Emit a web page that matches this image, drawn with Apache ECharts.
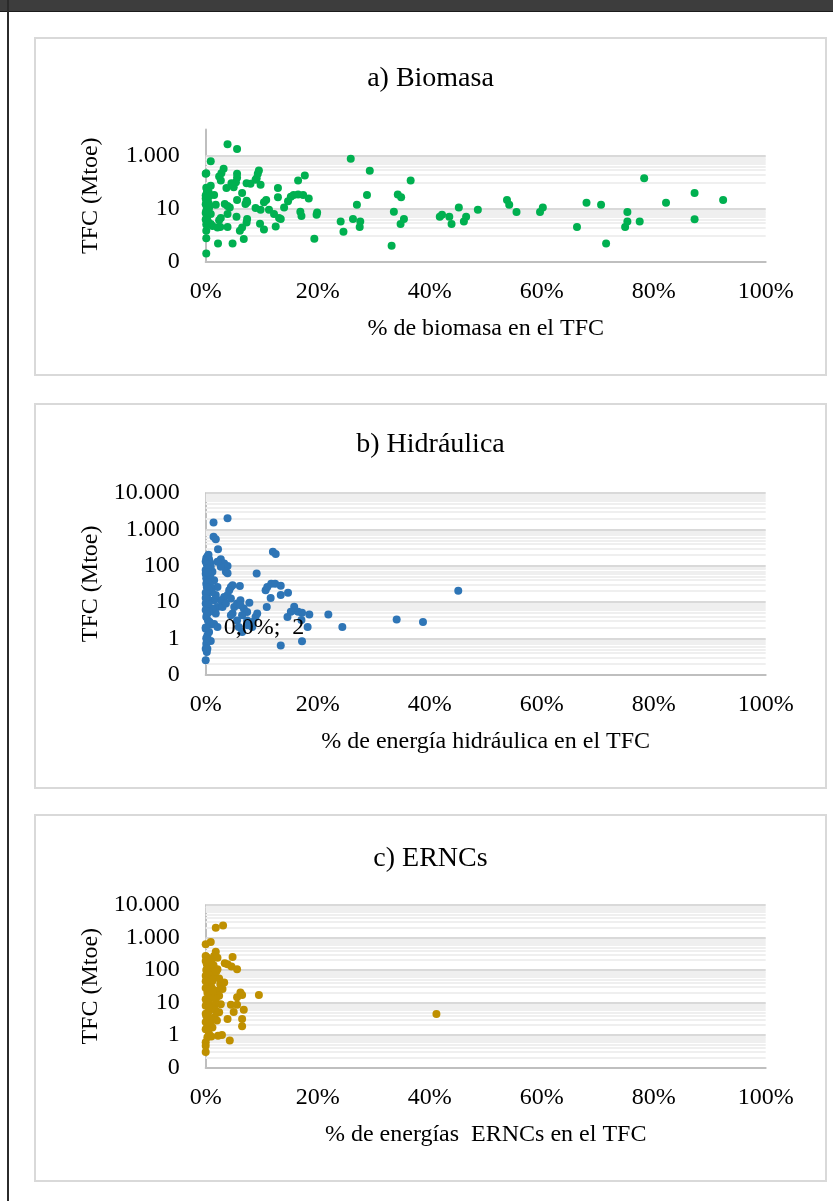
<!DOCTYPE html>
<html><head><meta charset="utf-8">
<script src="https://cdn.jsdelivr.net/npm/echarts@6/dist/echarts.min.js"></script>
<style>html,body{margin:0;padding:0;background:#fff}#c{width:833px;height:1201px}</style>
</head><body><div id="c"></div>
<script>
// ---------- data ----------
const titles = ['a) Biomasa', 'b) Hidráulica', 'c) ERNCs'];
const xNames = ['% de biomasa en el TFC', '% de energía hidráulica en el TFC', '% de energías  ERNCs en el TFC'];
const yName = 'TFC (Mtoe)';
const xMin = 0, xMax = 100, xStep = 20;
const yMin = 0.1, yMax = 10000;
const labeledMajorA = [0.1, 10, 1000];          // labelled ticks of chart a
const labeledMajorBC = [0.1, 1, 10, 100, 1000, 10000];

// [% share, TFC Mtoe]
const biomasa = [
 [3.9,2750],[5.6,1820],[0.9,630],[25.9,780],[29.3,275],[36.6,118],
 [0.0,213],[0.1,225],[3.2,330],[2.8,225],[2.4,170],[5.6,213],[5.6,150],[5.4,102],
 [9.5,282],[9.3,213],[9.1,145],[8.9,126],[16.5,118],[17.7,182],
 [9.8,83],[8.0,89],[7.3,93],[12.9,62],[6.5,40],[1.5,34],
 [15.7,34],[15.2,29],[16.5,35],[17.4,34],[18.4,25],[28.8,34],[34.3,35],[34.9,28],
 [12.9,28],[10.4,18],[10.8,22],[14.7,19.5],[14.0,11.5],
 [5.6,22],[7.3,20.6],[7.1,15.5],[7.4,18],[1.8,14.5],[3.4,15.5],[3.9,13],[4.3,11.5],
 [8.9,11],[9.8,9.4],[11.3,9.4],[12.2,6.5],[27.0,14.5],[19.9,7.4],[19.8,6.1],[16.9,7.9],[17.1,5.4],[33.6,7.9],
 [0.9,6.5],[3.9,6.5],[5.5,5.1],[7.4,4.2],[7.3,3.1],[6.5,2.0],[6.1,1.5],[9.7,2.8],[10.4,1.7],[12.5,2.2],[13.1,4.6],[13.4,4.2],
 [2.7,4.6],[2.4,3.8],[2.1,2.0],[2.6,2.1],[3.9,2.1],[1.2,2.3],[0.9,2.7],
 [24.1,3.4],[26.3,4.2],[27.6,3.4],[27.5,2.1],[35.4,4.2],[34.8,2.7],[24.6,1.4],[19.4,0.75],[6.8,0.73],
 [0.1,1.5],[0.1,0.79],[2.2,0.5],[4.8,0.5],[33.2,0.41],[0.1,0.21],
 [41.8,5.1],[42.2,6.1],[43.5,5.1],[43.9,2.7],[45.2,11.5],[46.1,3.4],[46.5,5.1],[48.6,9.4],
 [53.8,22],[54.2,14.5],[55.5,7.7],[59.7,7.7],[60.2,11.5],[66.3,2.1],[68.0,17.3],[70.6,14.5],[71.5,0.5],
 [75.3,7.7],[75.3,3.4],[74.9,2.1],[77.5,3.4],[78.3,145],[82.2,17.3],[87.3,40],[87.3,4.1],[92.4,22],
 [2.7,118],[0.9,76],[3.7,62],[5.0,66],[4.6,93],
 [0.1,63],[0.3,50],[0.2,40],[0.0,32],[0.4,27],[0.1,22],[0.3,18],[0.0,15],[0.2,12],[0.4,10],
 [0.1,8.5],[0.0,7],[0.3,6],[0.2,5],[0.0,4],[0.4,3.3],[0.1,2.6],[0.5,45],[0.6,30],[0.5,17],
 [0.6,11],[0.0,25],[0.2,9],[0.5,7.5],[0.3,3.8]
];

const hidraulica = [
 [3.9,2030],[1.4,1540],[1.4,630],[1.8,535],[2.2,282],[12.0,240],[12.5,209],[9.1,61],
 [0.1,160],[0.3,180],[0.5,200],[0.2,140],[0.6,150],[0.0,130],[0.8,120],
 [2.7,150],[3.3,115],[3.9,98],[3.6,68],[2.7,93],[2.1,129],[3.9,62],
 [10.7,21],[11.0,26],[11.7,32],[12.4,32],[13.4,28],[11.6,13],[13.4,15.5],[14.7,18],[10.9,7.3],
 [15.8,7.4],[15.9,5.9],[15.2,5.4],[14.6,3.9],[16.5,5.4],[17.2,5.1],[18.5,4.5],[17.1,3.2],
 [21.9,4.5],[24.4,2.05],[34.1,3.3],[38.8,2.8],[45.1,20.3],[13.4,0.64],[17.2,0.83],[18.2,2.05],
 [0.9,0.84],[0.1,0.71],[0.0,0.52],[0.2,0.42],[0.3,0.52],[0.0,0.25],
 [6.1,27.4],[4.2,21],[3.9,15.5],[3.3,13.8],[2.7,11.2],[2.1,7.3],[3.0,7.3],[3.6,9.1],[4.5,12.5],[5.1,7.3],
 [5.6,9.1],[6.2,11.2],[6.8,6.6],[7.8,9.5],[7.4,5.3],[6.5,4.3],[5.6,3.1],[7.4,3.1],[8.9,3.9],[8.3,2.05],
 [5.9,2.05],[6.5,1.5],[4.8,4.8],[4.5,4.3],[1.5,2.5],[2.1,2.05],[1.8,4.8],[1.2,6.6],[1.5,11.2],[1.8,15.5],
 [2.1,26],[1.5,40],[1.2,68],[0.9,93],[9.2,4.8],[8.3,2.8],[7.5,2.3],[6.2,8.2],[4.5,26],[4.8,29],
 [0.0,76],[0.3,49],[0.6,40],[0.1,32],[0.9,26],[1.1,19],[0.2,15.5],[0.6,11.2],[0.0,9.1],[0.2,7.3],
 [0.6,5.3],[0.1,3.9],[0.4,3.1],[0.9,2.4],[0.0,1.85],[0.6,1.5],[0.0,60],[0.2,110],[0.4,85],[0.1,45],
 [0.5,22],[0.3,12.5],[0.0,6],[0.2,4.5],[0.7,2.8],[0.3,1.2],[0.1,1.0],[0.0,18],[0.4,35],[0.8,55],
 [0.2,26],[0.5,9],[0.0,13],[0.3,65]
];
const hidraulicaLabeled = [0.0, 2];

const ernc = [
 [3.1,2350],[1.8,2000],[0.9,725],[0.0,617],[1.8,365],[1.5,270],[2.1,240],[0.3,240],[0.0,270],[0.0,190],
 [4.8,251],[3.4,162],[3.9,150],[4.6,129],[5.6,105],
 [6.2,20.4],[6.5,17],[5.6,14.5],[9.5,17],
 [4.5,8.5],[5.6,8.5],[6.8,6],[5.0,5.1],[3.9,3.1],[6.5,3.1],[6.5,1.86],[4.3,0.68],[2.2,0.95],[0.6,1.07],
 [0.3,0.85],[0.0,0.6],[0.0,0.47],[0.0,0.3],
 [41.2,4.4],
 [2.1,106],[0.9,84],[0.0,66],[0.3,52],[1.2,46],[2.7,32],[2.1,23],[1.2,26],[0.3,20],[2.4,5],
 [1.5,8],[0.9,3.1],[0.3,1.9],[0.0,2.5],[0.1,3.9],[0.0,8],[0.0,12.7],[0.6,11.3],[1.8,12.7],[2.6,37],
 [3.3,41],[3.0,26],[2.4,16],[1.8,5.6],[2.7,8.9],
 [0.2,150],[0.5,120],[1.0,180],[1.4,140],[0.1,100],[0.7,70],[1.6,60],[0.4,35],[1.0,30],[0.0,28],
 [0.8,17],[1.4,15],[0.2,10],[1.1,6.5],[0.5,5],[0.0,4.5],[0.8,2.2],[1.2,1.7],[0.4,1.4],[1.6,3.5],
 [2.0,2.8],[2.9,1.0],[0.0,45],[0.3,80],[1.9,90],[2.4,55],[1.3,22],[0.6,7],[0.0,1.5],[1.0,0.9]
];

// ---------- styling / layout ----------
const colors = ['#00b050', '#2e75b6', '#bf9000'];
const FONT = '"Liberation Serif", "Times New Roman", serif';
const grids = [
  {left: 205.7, top: 129.5, width: 560, height: 132.5},
  {left: 205.7, top: 493,   width: 560, height: 181.7},
  {left: 205.7, top: 905,   width: 560, height: 162.5}
];
const panels = [[35, 38, 791, 337], [35, 404, 791, 384], [35, 815, 791, 366]];
const titleTops = [65, 431, 845];

function fmtY(v) {
  const e = Math.round(Math.log10(v));
  if (e < 0) return '0';
  return String(Math.pow(10, e)).replace(/\B(?=(\d{3})+(?!\d))/g, '.');
}
function minorLines(majors) {
  const out = [];
  for (let i = 0; i < majors.length - 1; i++) {
    const lo = majors[i], hi = majors[i + 1];
    for (let k = 1; k <= 9; k++) {
      const v = +(k * hi / 10).toPrecision(6);
      if (v > lo * 1.0001 && v < hi * 0.9999) out.push(v);
    }
  }
  return out;
}

const xAxes = [], yAxes = [], series = [], title = [];
const datasets = [biomasa, hidraulica, ernc];
for (let i = 0; i < 3; i++) {
  const majors = i === 0 ? labeledMajorA : labeledMajorBC;
  title.push({
    text: titles[i], left: 430.5, top: titleTops[i], textAlign: 'center', padding: 0,
    textStyle: {fontFamily: FONT, fontSize: 28, fontWeight: 'normal', color: '#000'}
  });
  xAxes.push({
    gridIndex: i, type: 'value', min: xMin, max: xMax, interval: xStep,
    name: xNames[i], nameLocation: 'middle', nameGap: 55,
    nameTextStyle: {fontFamily: FONT, fontSize: 24, color: '#000'},
    axisLine: {show: true, onZero: false, lineStyle: {color: '#bfbfbf', width: 2}},
    axisTick: {show: false}, splitLine: {show: false},
    axisLabel: {fontFamily: FONT, fontSize: 24, color: '#000', margin: 18, formatter: '{value}%'}
  });
  yAxes.push({
    gridIndex: i, type: 'log', logBase: 10, min: yMin, max: yMax,
    name: yName, nameLocation: 'middle', nameRotate: 90, nameGap: 103,
    nameTextStyle: {fontFamily: FONT, fontSize: 24, color: '#000'},
    axisLine: {show: true, onZero: false, lineStyle: {color: '#bfbfbf', width: 2}},
    axisTick: {show: false}, splitLine: {show: false}, minorTick: {show: false},
    axisLabel: {
      fontFamily: FONT, fontSize: 24, color: '#000', margin: 26,
      formatter: (v) => {
        const e = Math.round(Math.log10(v));
        return majors.some(m => Math.round(Math.log10(m)) === e) ? fmtY(v) : '';
      }
    }
  });
  const drawnMajors = majors.filter(m => m > yMin * 1.0001);
  const minors = minorLines(majors);
  series.push({
    type: 'line', xAxisIndex: i, yAxisIndex: i, data: [], z: 1, silent: true,
    markLine: {
      silent: true, z: 1, symbol: ['none', 'none'], label: {show: false}, animation: false,
      lineStyle: {color: '#efefef', width: 2, type: 'solid'}, emphasis: {disabled: true},
      data: minors.map(v => ({yAxis: v}))
    }
  });
  series.push({
    type: 'line', xAxisIndex: i, yAxisIndex: i, data: [], z: 1, silent: true,
    markLine: {
      silent: true, z: 1, symbol: ['none', 'none'], label: {show: false}, animation: false,
      lineStyle: {color: '#d9d9d9', width: 2, type: 'solid'}, emphasis: {disabled: true},
      data: drawnMajors.map(v => ({yAxis: v}))
    }
  });
  const pts = datasets[i].map(p => p.slice());
  if (i === 1) {
    pts.push({
      value: hidraulicaLabeled,
      label: {
        show: true, position: 'right', distance: 14,
        formatter: hidraulicaLabeled[0].toFixed(1).replace('.', ',') + '%;  ' + hidraulicaLabeled[1],
        fontFamily: FONT, fontSize: 24, color: '#000'
      }
    });
  }
  series.push({
    type: 'scatter', xAxisIndex: i, yAxisIndex: i, data: pts, z: 3,
    symbol: 'circle', symbolSize: 8, itemStyle: {color: colors[i], opacity: 1},
    clip: false, animation: false
  });
}

const graphic = [
  {type: 'rect', shape: {x: 0, y: 0, width: 833, height: 11}, style: {fill: '#3d3d3d'}, z: 10},
  {type: 'rect', shape: {x: 0, y: 11, width: 833, height: 1}, style: {fill: '#1c1c1c'}, z: 10},
  {type: 'rect', shape: {x: 7, y: 0, width: 2, height: 1201}, style: {fill: '#2b2b2b'}, z: 10}
];
panels.forEach(p => graphic.push({
  type: 'rect', shape: {x: p[0], y: p[1], width: p[2], height: p[3]},
  style: {fill: 'none', stroke: '#d9d9d9', lineWidth: 2}, z: -1, silent: true
}));

const chart = echarts.init(document.getElementById('c'), null, {renderer: 'canvas'});
chart.setOption({
  backgroundColor: '#fff',
  animation: false,
  title: title,
  grid: grids,
  xAxis: xAxes,
  yAxis: yAxes,
  series: series,
  graphic: graphic
});
</script>
</body></html>
